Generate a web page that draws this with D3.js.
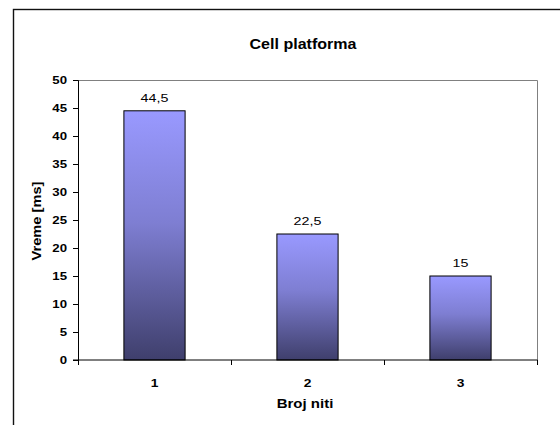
<!DOCTYPE html>
<html>
<head>
<meta charset="utf-8">
<script src="https://cdn.jsdelivr.net/npm/d3@7"></script>
<style>
    body { margin: 0; background: #fff; }
    svg { display: block; font-family: "Liberation Sans", Arial, sans-serif; }
</style>
</head>
<body>
<div id="chart"></div>
<script>
const categories = ['1', '2', '3'];
const values = [44.5, 22.5, 15];
const valueLabels = ['44,5', '22,5', '15'];
const yTicks = [0, 5, 10, 15, 20, 25, 30, 35, 40, 45, 50];

const width = 560, height = 425;
const plot = {left: 78, top: 80, right: 537, bottom: 360};

const svg = d3.select('#chart').append('svg')
    .attr('width', width).attr('height', height);

// the original text is a little wide, so stretch glyphs horizontally
const label = (g, x, y, txt, size, bold, sx, anchor) =>
    g.append('text')
        .attr('transform', `translate(${x},${y}) scale(${sx},1)`)
        .attr('text-anchor', anchor || 'middle')
        .attr('font-size', size)
        .attr('font-weight', bold ? 'bold' : 'normal')
        .attr('fill', '#000')
        .text(txt);

// outer chart frame (cut off at right and bottom)
svg.append('rect')
    .attr('x', 13.5).attr('y', 9.5)
    .attr('width', 560).attr('height', 430)
    .attr('fill', '#fff').attr('stroke', '#111').attr('stroke-width', 1.4);

const grad = svg.append('defs').append('linearGradient')
    .attr('id', 'barGrad').attr('x1', 0).attr('y1', 0).attr('x2', 0).attr('y2', 1);
grad.append('stop').attr('offset', '0%').attr('stop-color', '#9999ff');
grad.append('stop').attr('offset', '45%').attr('stop-color', '#7e7ed2');
grad.append('stop').attr('offset', '100%').attr('stop-color', '#3f3f6c');

const x = d3.scaleBand().domain(categories)
    .range([plot.left, plot.right]).paddingInner(0).paddingOuter(0);
const y = d3.scaleLinear().domain([0, 50]).range([plot.bottom, plot.top]);

// plot area border: gray top and right
svg.append('path')
    .attr('d', `M${plot.left},${plot.top + 0.5}H${plot.right + 0.5}V${plot.bottom}`)
    .attr('fill', 'none').attr('stroke', '#808080').attr('stroke-width', 1);

const bw = x.bandwidth() * 0.4;
svg.append('g').selectAll('rect')
    .data(values)
    .join('rect')
    .attr('x', (d, i) => x(categories[i]) + (x.bandwidth() - bw) / 2)
    .attr('y', d => y(d))
    .attr('width', bw)
    .attr('height', d => y(0) - y(d))
    .attr('fill', 'url(#barGrad)')
    .attr('stroke', '#000').attr('stroke-width', 1);

const vl = svg.append('g');
values.forEach((d, i) =>
    label(vl, x(categories[i]) + x.bandwidth() / 2, y(d) - 9, valueLabels[i], 11, false, 1.3));

// y axis
const yAxis = svg.append('g')
    .attr('transform', `translate(${plot.left},0)`)
    .call(d3.axisLeft(y).tickValues(yTicks).tickSize(5).tickFormat(''));
yAxis.select('.domain').attr('stroke', '#000');
const yl = svg.append('g');
yTicks.forEach(t => label(yl, plot.left - 11, y(t) + 4, t, 11.5, true, 1.15, 'end'));

// x axis with ticks at category boundaries
const xAxis = svg.append('g')
    .attr('transform', `translate(0,${plot.bottom})`);
xAxis.append('line')
    .attr('x1', plot.left - 5).attr('x2', plot.right + 0.5)
    .attr('stroke', '#000');
xAxis.selectAll('.bt')
    .data(categories.concat(['end']))
    .join('line')
    .attr('x1', (d, i) => plot.left + i * x.bandwidth() + 0.5)
    .attr('x2', (d, i) => plot.left + i * x.bandwidth() + 0.5)
    .attr('y1', 0).attr('y2', 5)
    .attr('stroke', '#000');
categories.forEach(c =>
    label(xAxis, x(c) + x.bandwidth() / 2, 27, c, 11.5, true, 1.2));

label(svg, 305, 408, 'Broj niti', 12, true, 1.25);

svg.append('g')
    .attr('transform', `translate(41,${(plot.top + plot.bottom) / 2 + 1}) rotate(-90)`)
    .call(g => label(g, 0, 0, 'Vreme [ms]', 12, true, 1.22));

label(svg, 303, 49, 'Cell platforma', 15, true, 1.07);
</script>
</body>
</html>
